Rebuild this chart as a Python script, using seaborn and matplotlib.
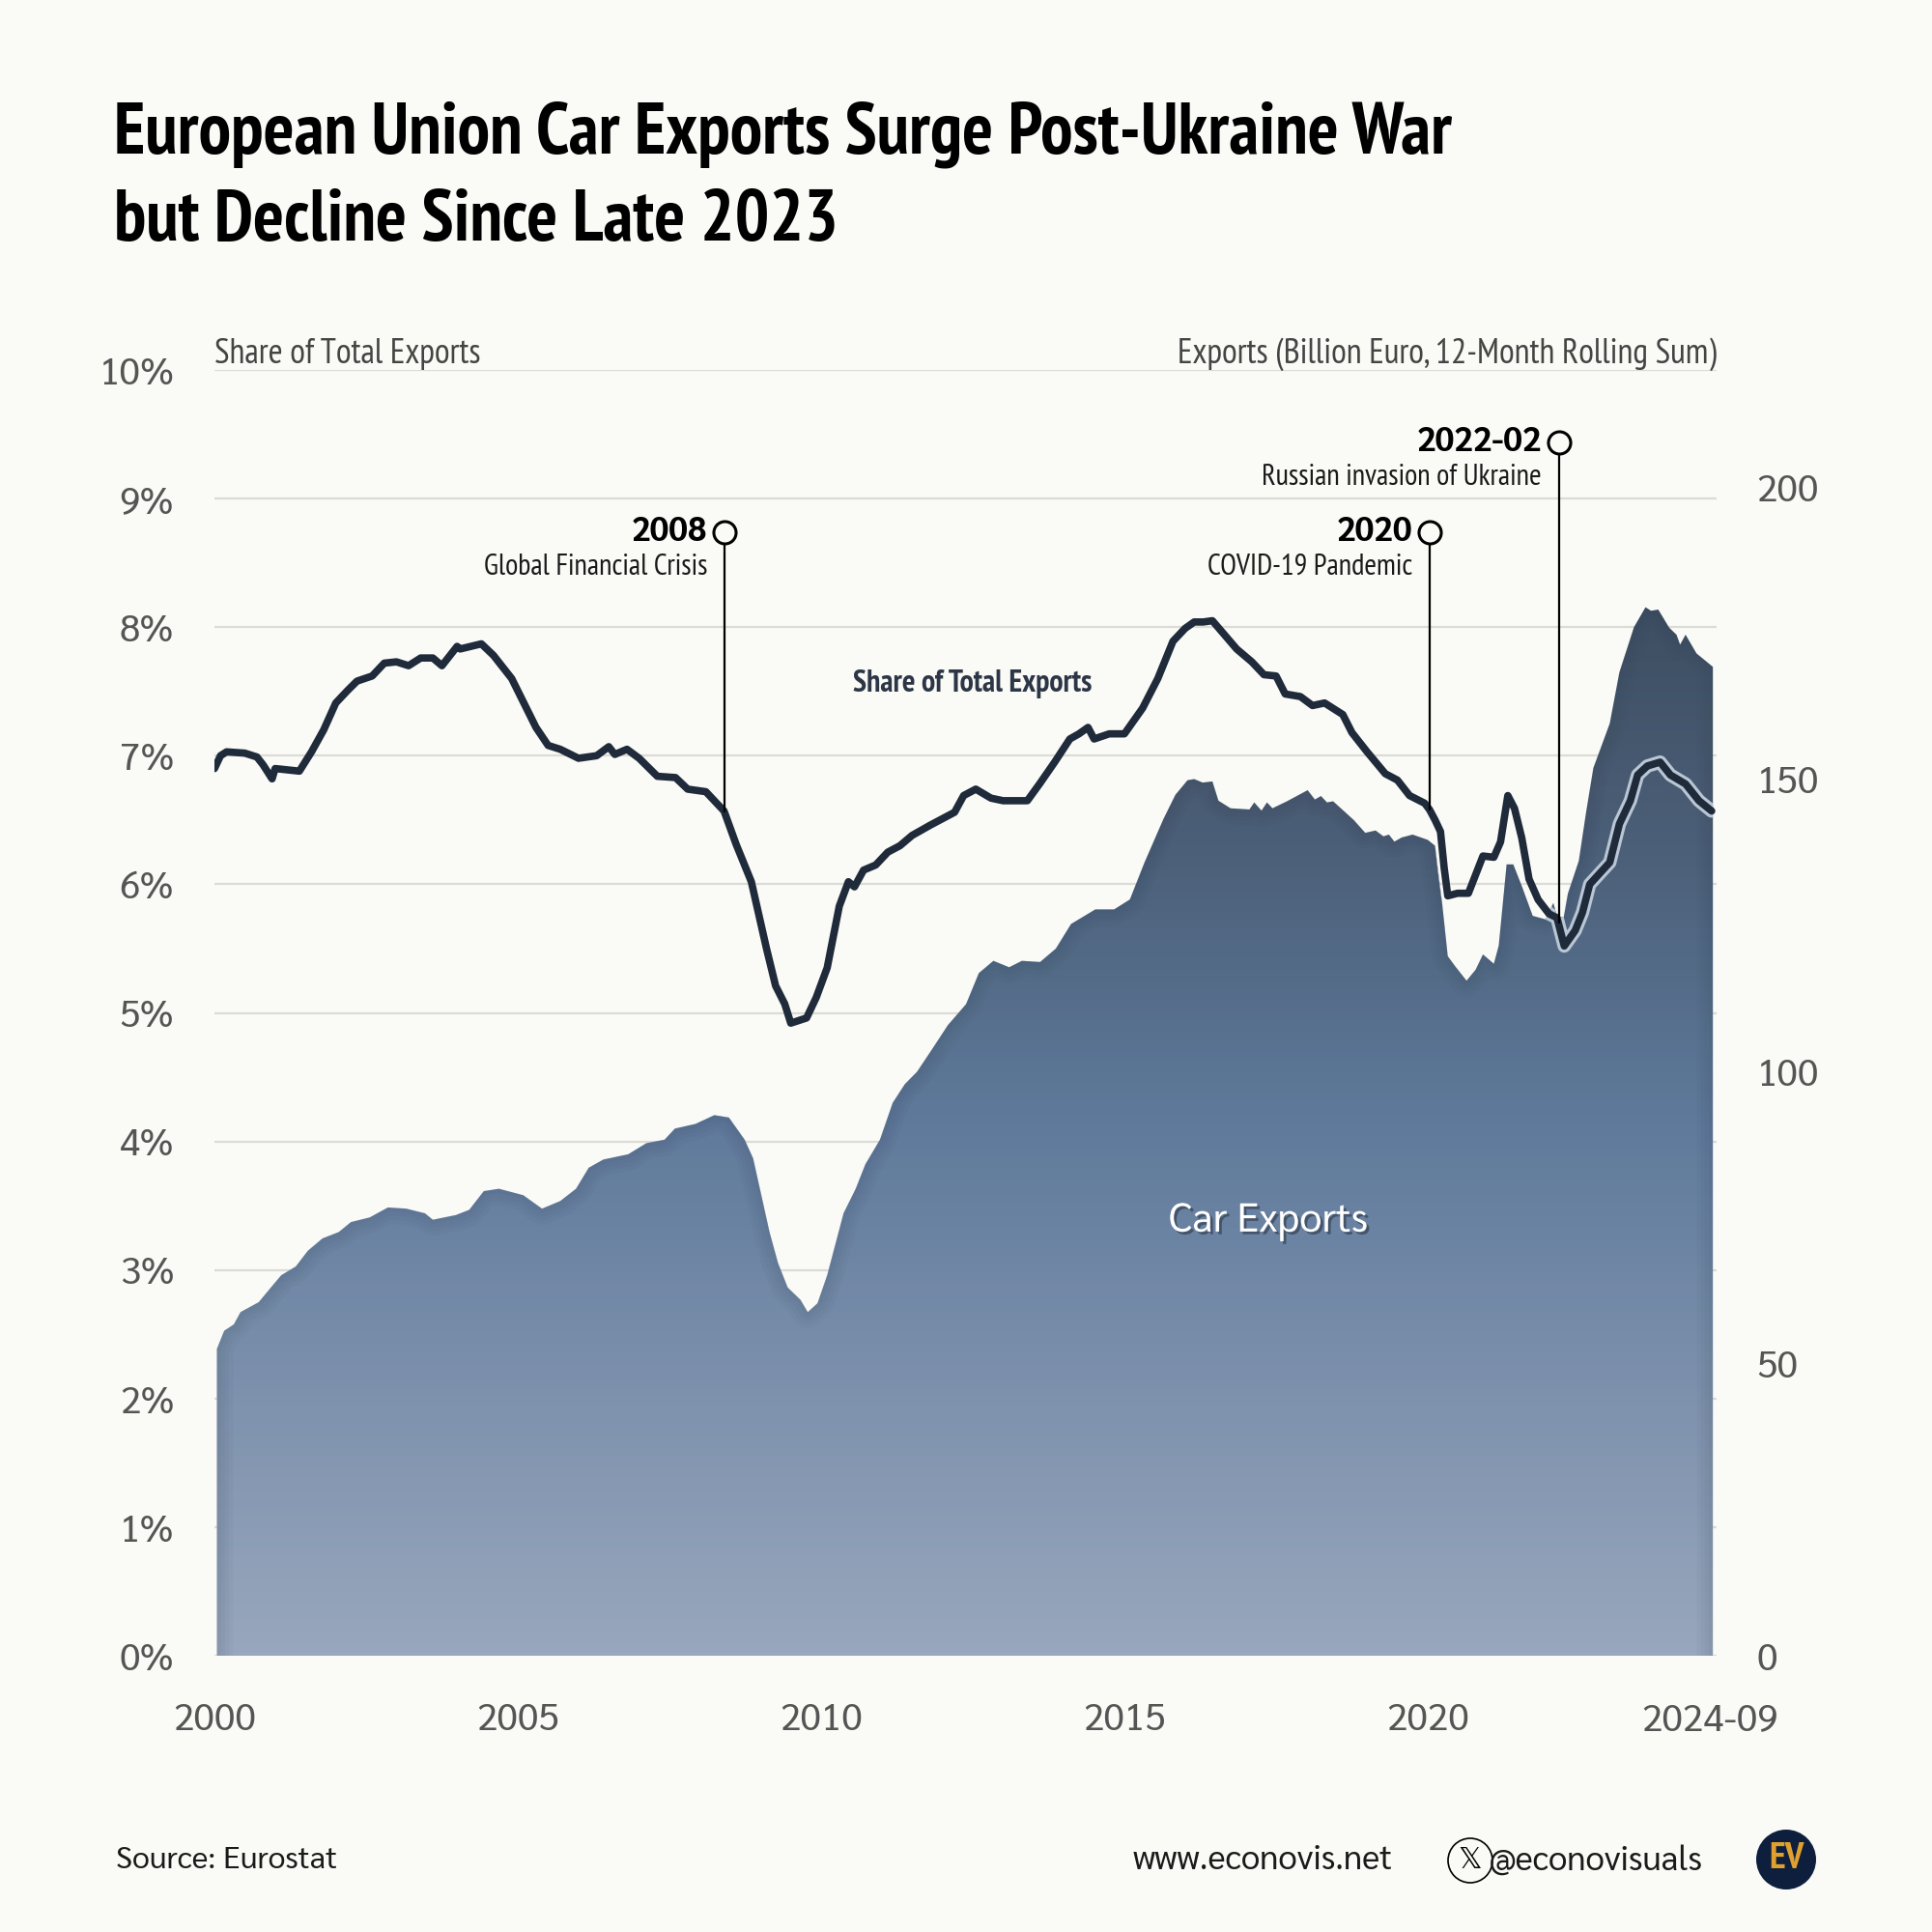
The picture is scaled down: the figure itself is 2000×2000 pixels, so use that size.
import numpy as np
import pandas as pd
import matplotlib.pyplot as plt
import matplotlib.patheffects as pe
from matplotlib.colors import LinearSegmentedColormap
from matplotlib.patches import Ellipse
import seaborn as sns

# values
share_years = [2000.0, 2000.1, 2000.2, 2000.5, 2000.7, 2000.8, 2000.95, 2001.0, 2001.4, 2001.6, 2001.8, 2002.0, 2002.2, 2002.35, 2002.6, 2002.8,
               2003.0, 2003.2, 2003.4, 2003.6, 2003.75, 2004.0, 2004.05, 2004.4, 2004.6, 2004.9, 2005.1, 2005.3, 2005.5, 2005.7, 2006.0, 2006.3,
               2006.5, 2006.6, 2006.8, 2007.0, 2007.3, 2007.6, 2007.8, 2008.1, 2008.3, 2008.4, 2008.6, 2008.85, 2009.1, 2009.25, 2009.4, 2009.5,
               2009.76, 2009.92, 2010.1, 2010.3, 2010.45, 2010.55, 2010.7, 2010.9, 2011.1, 2011.3, 2011.5, 2011.8, 2012.0, 2012.2, 2012.35, 2012.55,
               2012.8, 2013.0, 2013.2, 2013.4, 2013.6, 2013.85, 2014.1, 2014.25, 2014.4, 2014.5, 2014.75, 2015.0, 2015.3, 2015.55, 2015.8, 2016.0,
               2016.15, 2016.3, 2016.45, 2016.65, 2016.85, 2017.1, 2017.3, 2017.5, 2017.65, 2017.9, 2018.1, 2018.3, 2018.6, 2018.75, 2019.0, 2019.3,
               2019.5, 2019.7, 2019.95, 2020.03, 2020.12, 2020.21, 2020.27, 2020.33, 2020.49, 2020.67, 2020.91, 2021.09, 2021.2, 2021.32, 2021.43,
               2021.55, 2021.67, 2021.82, 2022.0, 2022.13, 2022.25, 2022.43, 2022.55, 2022.67, 2023.0, 2023.16, 2023.34, 2023.46, 2023.62, 2023.83,
               2024.0, 2024.25, 2024.47, 2024.68]
share_pct = [6.9, 7.0, 7.03, 7.02, 6.99, 6.93, 6.82, 6.9, 6.88, 7.03, 7.2, 7.41, 7.51, 7.58, 7.62, 7.72,
             7.73, 7.7, 7.76, 7.76, 7.7, 7.85, 7.83, 7.87, 7.78, 7.6, 7.41, 7.22, 7.08, 7.05, 6.98, 7.0,
             7.07, 7.01, 7.05, 6.98, 6.84, 6.83, 6.74, 6.72, 6.62, 6.57, 6.31, 6.02, 5.5, 5.21, 5.07, 4.92,
             4.96, 5.12, 5.35, 5.83, 6.02, 5.98, 6.11, 6.15, 6.25, 6.3, 6.38, 6.46, 6.51, 6.56, 6.69, 6.74,
             6.67, 6.65, 6.65, 6.65, 6.78, 6.95, 7.13, 7.17, 7.22, 7.13, 7.17, 7.17, 7.37, 7.6, 7.89, 7.99,
             8.04, 8.04, 8.05, 7.94, 7.83, 7.73, 7.63, 7.62, 7.48, 7.46, 7.39, 7.41, 7.32, 7.18, 7.03, 6.86,
             6.81, 6.69, 6.63, 6.58, 6.5, 6.41, 6.13, 5.91, 5.93, 5.93, 6.22, 6.21, 6.33, 6.69, 6.59,
             6.36, 6.04, 5.88, 5.77, 5.74, 5.52, 5.64, 5.78, 6.0, 6.17, 6.47, 6.65, 6.85, 6.92, 6.95,
             6.85, 6.78, 6.65, 6.57]

export_years = [2000.04, 2000.16, 2000.32, 2000.43, 2000.73, 2000.93, 2001.1, 2001.34, 2001.54, 2001.78, 2002.05, 2002.25, 2002.56, 2002.86,
                2003.16, 2003.47, 2003.6, 2003.98, 2004.2, 2004.44, 2004.69, 2005.09, 2005.4, 2005.7, 2005.96, 2006.17, 2006.41, 2006.82, 2007.12,
                2007.42, 2007.59, 2007.93, 2008.24, 2008.48, 2008.74, 2008.88, 2009.15, 2009.29, 2009.45, 2009.66, 2009.78, 2009.94, 2010.1, 2010.37,
                2010.57, 2010.73, 2010.97, 2011.18, 2011.38, 2011.58, 2011.85, 2012.09, 2012.39, 2012.6, 2012.84, 2013.1, 2013.31, 2013.61, 2013.87,
                2014.12, 2014.52, 2014.83, 2015.09, 2015.33, 2015.64, 2015.84, 2016.04, 2016.15, 2016.29, 2016.45, 2016.55, 2016.75, 2017.06, 2017.14,
                2017.26, 2017.35, 2017.44, 2017.68, 2018.02, 2018.14, 2018.24, 2018.34, 2018.44, 2018.78, 2018.97, 2019.14, 2019.27, 2019.36, 2019.45,
                2019.57, 2019.75, 2020.0, 2020.12, 2020.18, 2020.24, 2020.33, 2020.45, 2020.64, 2020.79, 2020.91, 2021.09, 2021.17, 2021.3, 2021.41,
                2021.55, 2021.73, 2021.94, 2022.07, 2022.13, 2022.24, 2022.31, 2022.49, 2022.61, 2022.73, 2023.0, 2023.16, 2023.4, 2023.59, 2023.68,
                2023.8, 2023.98, 2024.1, 2024.16, 2024.25, 2024.43, 2024.7]
export_bn = [52.5, 55.6, 56.7, 58.8, 60.5, 63.0, 65.1, 66.6, 69.3, 71.4, 72.5, 74.2, 75.0, 76.7,
             76.5, 75.7, 74.6, 75.4, 76.3, 79.5, 79.9, 78.8, 76.5, 77.8, 79.9, 83.5, 84.9, 85.8, 87.7,
             88.3, 90.2, 91.0, 92.5, 92.1, 88.3, 85.1, 72.5, 67.2, 63.0, 60.9, 58.8, 60.3, 65.1, 75.7,
             79.9, 84.1, 88.3, 94.6, 97.8, 99.9, 104.1, 107.9, 111.5, 116.8, 118.9, 117.8, 118.9, 118.7, 121.0,
             125.2, 127.7, 127.7, 129.4, 135.7, 143.1, 147.3, 149.8, 150.0, 149.4, 149.6, 146.3, 145.0, 144.8, 146.0,
             144.6, 146.0, 145.0, 146.2, 148.1, 146.5, 147.1, 146.0, 146.2, 143.0, 140.8, 141.2, 140.2, 140.5, 139.3,
             140.0, 140.5, 139.6, 138.6, 133.5, 128.5, 119.7, 118.0, 115.5, 117.4, 120.0, 118.4, 121.5, 135.4, 135.4,
             131.7, 126.6, 126.0, 128.8, 126.6, 126.3, 130.4, 136.0, 144.3, 151.9, 159.5, 168.3, 176.0, 179.4, 178.8,
             179.0, 175.9, 174.7, 173.0, 174.7, 171.5, 169.2]

share_ticks = list(range(0, 11))
export_ticks = [0, 50, 100, 150, 200]
year_ticks = list(range(2000, 2025)) + [2024.65]
year_labels = {2000: "2000", 2005: "2005", 2010: "2010", 2015: "2015", 2020: "2020", 2024.65: "2024-09"}

events = [(2008.41, 8.74, 6.57, "2008", "Global Financial Crisis"),
          (2020.03, 8.74, 6.58, "2020", "COVID-19 Pandemic"),
          (2022.16, 9.44, 5.7, "2022-02", "Russian invasion of Ukraine")]

BG = "#fafaf6"
NARROW = ["PT Sans Narrow", "DejaVu Sans"]
BODY = ["Sarabun", "Noto Sans", "DejaVu Sans"]
GREY = "#555555"

sns.set_theme(style="white", rc={"figure.facecolor": BG, "axes.facecolor": BG})
plt.rcParams["font.family"] = BODY

fig = plt.figure(figsize=(10, 10), dpi=200)
ax = fig.add_axes([222 / 2000, 1 - 1714 / 2000, (1777 - 222) / 2000, (1714 - 383) / 2000])
xlim = (2000, 2000 + (1777 - 222) / 62.8)

# base axis: grid + share tick labels + year ticks
ax.set_xlim(*xlim)
ax.set_ylim(0, 10)
ax.set_yticks(share_ticks)
ax.set_yticklabels([f"{v}%" for v in share_ticks])
ax.yaxis.grid(True, color="#dcdcd6", lw=0.8)
ax.set_xticks(year_ticks)
ax.set_xticklabels([year_labels.get(y, "") for y in year_ticks])
ax.tick_params(axis="x", length=8, width=0.7, color="#d8d8d4", labelsize=14, labelcolor=GREY, pad=9)
ax.tick_params(axis="y", length=0, labelsize=14, labelcolor=GREY, pad=15)
sns.despine(ax=ax, left=True, top=True, right=True, bottom=True)

# exports area
ax2 = ax.twinx()
ax2.set_ylim(0, 220)
ax2.set_xlim(*xlim)
ax2.set_yticks(export_ticks)
ax2.tick_params(axis="y", length=0, labelsize=14, labelcolor=GREY, pad=15)
sns.despine(ax=ax2, left=True, top=True, right=True, bottom=True)

area = ax2.fill_between(export_years, export_bn, 0, facecolor="none", edgecolor="none")
area_path = area.get_paths()[0]
cmap = LinearSegmentedColormap.from_list("area", ["#3d4d61", "#4c6079", "#5f7a9b", "#7d91ad", "#98a7bd"])
grad = ax2.imshow(np.linspace(0, 1, 256).reshape(-1, 1), cmap=cmap, aspect="auto",
                  extent=(2000, 2024.7, 0, 182), origin="upper", zorder=1)
grad.set_clip_path(area_path, area.get_transform())
# soft dark edge inside the area
edge_x = [export_years[0]] + export_years + [export_years[-1]]
edge_y = [0] + export_bn + [0]
for w in [12, 9, 6, 3]:
    edge, = ax2.plot(edge_x, edge_y, color="#2c3a4c", lw=w, alpha=0.035, zorder=2)
    edge.set_clip_path(area_path, area.get_transform())
ax2.set_xlim(*xlim)
ax2.set_ylim(0, 220)

# share line
ax3 = ax.twinx()
df = pd.DataFrame({"year": share_years, "share": share_pct})
sns.lineplot(data=df, x="year", y="share", ax=ax3, color="#b9c6d4", lw=5.0, errorbar=None)
ax3.lines[0].set_clip_path(area_path, area.get_transform())
sns.lineplot(data=df, x="year", y="share", ax=ax3, color="#1f2a3a", lw=2.75, errorbar=None)
ax3.set_xlim(*xlim)
ax3.set_ylim(0, 10)
ax3.axis("off")

for x, top, bottom, head, label in events:
    ax3.plot([x, x], [bottom, top], color="black", lw=0.8, zorder=5)
    ax3.plot([x], [top], marker="o", ms=8.3, mfc=BG, mec="black", mew=1.1, zorder=6)
    ax3.annotate(head, (x, top), xytext=(-6.4, 0), textcoords="offset points", ha="right", va="center",
                 fontsize=12.5, fontweight="bold", color="black")
    ax3.annotate(label, (x, top), xytext=(-6.4, -13), textcoords="offset points", ha="right", va="center",
                 fontsize=11, family=NARROW, color="#1a1a1a")

ax3.text(2012.5, 7.56, "Share of Total Exports", ha="center", va="center", fontsize=11.5, family=NARROW,
         fontweight="bold", color="#2c3646")
ax3.text(2017.37, 3.38, "Car Exports", ha="center", va="center", fontsize=15, color="white",
         path_effects=[pe.withSimplePatchShadow(offset=(1, -1), shadow_rgbFace="#2c3646", alpha=0.6)])

# headers
fig.text(222 / 2000, 1 - 376 / 2000, "Share of Total Exports", fontsize=13, family=NARROW, color="#444444", ha="left", va="baseline")
fig.text(1777 / 2000, 1 - 376 / 2000, "Exports (Billion Euro, 12-Month Rolling Sum)", fontsize=13, family=NARROW,
         color="#444444", ha="right", va="baseline")

# title
fig.text(118 / 2000, 1 - 158 / 2000, "European Union Car Exports Surge Post-Ukraine War", fontsize=27, family=NARROW,
         fontweight="bold", color="black", va="baseline")
fig.text(118 / 2000, 1 - 249 / 2000, "but Decline Since Late 2023", fontsize=27, family=NARROW,
         fontweight="bold", color="black", va="baseline")

# footer
fig.text(120 / 2000, 1 - 1926 / 2000, "Source: Eurostat", fontsize=11.5, color="#1a1a1a", ha="left", va="center")
fig.text(1442 / 2000, 1 - 1926 / 2000, "www.econovis.net", fontsize=12.5, color="#1a1a1a", ha="right", va="center")
fig.text(1763 / 2000, 1 - 1926 / 2000, "@econovisuals", fontsize=12.5, color="#1a1a1a", ha="right", va="center")
fig.add_artist(Ellipse((1522 / 2000, 1 - 1926 / 2000), 46 / 2000, 46 / 2000, transform=fig.transFigure, fc="none", ec="black", lw=0.6))
fig.text(1522 / 2000, 1 - 1926 / 2000, "𝕏", fontsize=11, color="black", ha="center", va="center", family="DejaVu Sans")
fig.add_artist(Ellipse((1849 / 2000, 1 - 1925 / 2000), 62 / 2000, 62 / 2000, transform=fig.transFigure, fc="#0d1f3c", ec="none"))
fig.text(1849 / 2000, 1 - 1925 / 2000, "EV", fontsize=14, fontweight="bold", color="#e0a030", ha="center", va="center", family=NARROW)

fig.savefig("out.png", dpi=200, facecolor=BG)
